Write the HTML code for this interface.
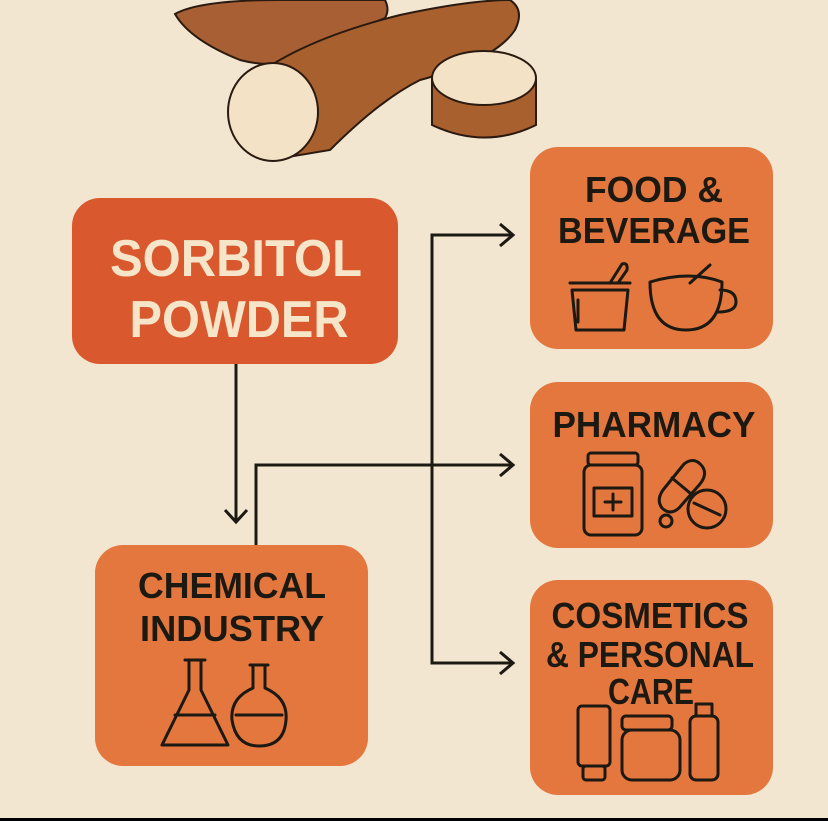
<!DOCTYPE html>
<html><head><meta charset="utf-8"><style>
html,body{margin:0;padding:0;background:#f3e6d0;}
svg{display:block}
text{font-family:"Liberation Sans",sans-serif;font-weight:bold;text-anchor:middle}
.t{fill:#1c1912;font-size:36px}
.ic{fill:none;stroke:#1c1912;stroke-width:3;stroke-linecap:round;stroke-linejoin:round}
</style></head><body>
<svg width="828" height="821" viewBox="0 0 828 821">
<rect width="828" height="821" fill="#f3e6d0"/>
<!-- cassava -->
<g stroke="#2a1a10" stroke-width="2">
<path d="M175 14 Q200 0 280 0 L385 0 Q390 10 385 18 Q330 40 300 60 Q270 68 240 60 Q190 40 175 14Z" fill="#a85f34"/>
<path d="M250 80 Q300 40 400 15 Q470 0 510 0 Q525 10 515 30 Q495 60 420 80 Q380 100 330 150 L270 160Z" fill="#a9602f"/>
<ellipse cx="273" cy="112" rx="45" ry="49" fill="#f3e2c6"/>
<path d="M432 80 L432 125 Q485 150 536 125 L536 80Z" fill="#a9602f"/>
<ellipse cx="484" cy="78" rx="52" ry="27" fill="#f3e2c6"/>
</g>
<!-- boxes -->
<rect x="72" y="198" width="326" height="166" rx="28" fill="#d9582e"/>
<rect x="95" y="545" width="273" height="221" rx="28" fill="#e4773e"/>
<rect x="530" y="147" width="243" height="202" rx="28" fill="#e4773e"/>
<rect x="530" y="382" width="243" height="166" rx="28" fill="#e4773e"/>
<rect x="530" y="580" width="243" height="215" rx="28" fill="#e4773e"/>
<text x="236" y="276" fill="#f6e5c8" font-size="52" textLength="252" lengthAdjust="spacingAndGlyphs">SORBITOL</text>
<text x="239" y="337" fill="#f6e5c8" font-size="52" textLength="219" lengthAdjust="spacingAndGlyphs">POWDER</text>
<text class="t" x="232" y="598" textLength="188" lengthAdjust="spacingAndGlyphs">CHEMICAL</text>
<text class="t" x="232" y="641" textLength="184" lengthAdjust="spacingAndGlyphs">INDUSTRY</text>
<text class="t" x="654" y="202" textLength="138" lengthAdjust="spacingAndGlyphs">FOOD &amp;</text>
<text class="t" x="654" y="243" textLength="192" lengthAdjust="spacingAndGlyphs">BEVERAGE</text>
<text class="t" x="654" y="437" textLength="203" lengthAdjust="spacingAndGlyphs">PHARMACY</text>
<text class="t" x="650" y="628" textLength="197" lengthAdjust="spacingAndGlyphs">COSMETICS</text>
<text class="t" x="650" y="667" textLength="208" lengthAdjust="spacingAndGlyphs">&amp; PERSONAL</text>
<text class="t" x="651" y="704" textLength="86" lengthAdjust="spacingAndGlyphs">CARE</text>
<!-- connectors -->
<g fill="none" stroke="#1c1912" stroke-width="3">
<path d="M236 364 V522"/><path d="M225 510 L236 522 L247 510"/>
<path d="M256 545 V465 H512"/><path d="M500 454 L513 465 L500 476"/>
<path d="M512 235 H432 V663 H512"/><path d="M500 224 L513 235 L500 246"/><path d="M500 652 L513 663 L500 674"/>
</g>
<!-- icons -->
<g class="ic">
<path d="M570 283 H630 M572 290 H628 L624 330 H576Z M578 300 V322"/><path d="M610 283 L622 264 Q628 262 627 270 L618 283"/>
<path d="M650 282 Q690 270 722 282 Q722 330 686 330 Q650 330 650 282Z M720 290 Q736 290 736 302 Q736 312 718 312"/><path d="M690 283 L710 265"/>
<rect x="588" y="453" width="50" height="12" rx="3"/><rect x="584" y="465" width="58" height="70" rx="7"/><rect x="594" y="488" width="38" height="28"/><path d="M613 494 V510 M605 502 H621"/>
<path d="M663 490 L684 464 Q694 456 702 466 Q708 474 700 484 L679 508 Q670 516 662 508 Q656 500 663 490Z M672 478 L690 493"/><circle cx="707" cy="509" r="19"/><path d="M694 503 L720 515"/><circle cx="666" cy="521" r="6"/>
<path d="M185 660 H205 M189 660 V690 L162 745 H228 L201 690 V660"/><path d="M175 715 H215"/>
<path d="M250 665 H268 M253 665 V688 Q230 698 232 720 Q236 746 259 746 Q284 746 286 720 Q288 698 265 688 V665"/><path d="M236 715 H282"/>
<rect x="578" y="706" width="32" height="60" rx="4"/><rect x="583" y="766" width="22" height="14" rx="3"/>
<rect x="622" y="716" width="50" height="14" rx="4"/><rect x="622" y="730" width="58" height="50" rx="10"/>
<rect x="696" y="704" width="16" height="12"/><rect x="690" y="716" width="28" height="64" rx="6"/>
</g>
<rect x="0" y="818" width="828" height="3" fill="#000"/>
</svg>
</body></html>
